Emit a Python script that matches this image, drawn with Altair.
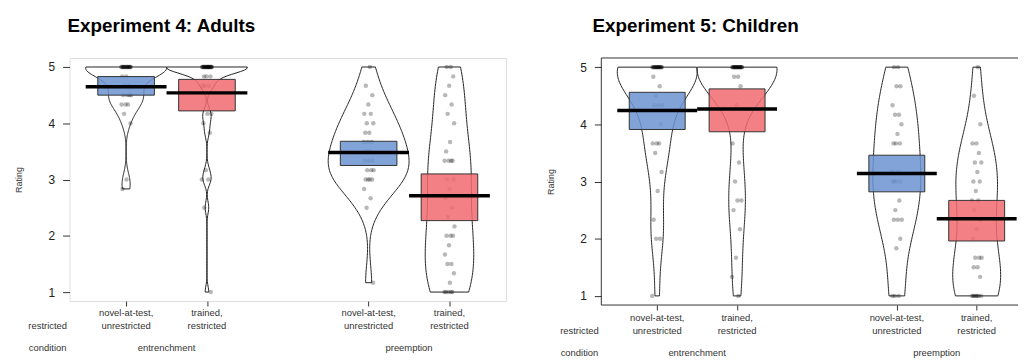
import altair as alt
import pandas as pd
import numpy as np

# ---------------- data ----------------
positions = [1, 2, 4, 5]
tick_line1 = ["novel-at-test,", "trained,", "novel-at-test,", "trained,"]
tick_line2 = ["unrestricted", "restricted", "unrestricted", "restricted"]
group_names = ["entrenchment", "preemption"]
group_centers = [1.5, 4.5]
factor_names = ["restricted", "condition"]
bean_colors = ["#6b93d1", "#f06a70", "#6b93d1", "#f06a70"]
y_ticks = [1, 2, 3, 4, 5]

titles = ["Experiment 4: Adults", "Experiment 5: Children"]

# Experiment 4 (adults): rating values and how many participants gave each
a_ent_novel_v = [5, 4.833, 4.667, 4.5, 4.333, 4.167, 4.0, 3.0, 2.833]
a_ent_novel_n = [16, 2, 2, 4, 3, 1, 1, 1, 1]
a_ent_trained_v = [5, 4.833, 4.667, 4.167, 4.0, 3.833, 3.167, 3.0, 2.5, 1.0]
a_ent_trained_n = [22, 3, 3, 2, 1, 1, 1, 2, 1, 1]
a_pre_novel_v = [5, 4.667, 4.5, 4.333, 4.167, 4.0, 3.833, 3.667, 3.5, 3.333,
                 3.167, 3.0, 2.833, 2.667, 2.5, 1.167]
a_pre_novel_n = [1, 1, 1, 1, 2, 2, 2, 3, 2, 3, 3, 4, 1, 1, 1, 1]
a_pre_trained_v = [5, 4.833, 4.667, 4.5, 4.333, 4.167, 4.0, 3.667, 3.5, 3.333,
                   3.0, 2.833, 2.667, 2.5, 2.333, 2.167, 2.0, 1.833, 1.667,
                   1.5, 1.333, 1.167, 1.0]
a_pre_trained_n = [2, 1, 1, 1, 1, 1, 1, 1, 1, 4, 2, 1, 1, 1, 1, 1, 3, 1, 1, 2,
                   1, 1, 5]
a_means = [4.65, 4.54, 3.48, 2.71]
a_lo = [4.50, 4.22, 3.25, 2.27]
a_hi = [4.83, 4.78, 3.68, 3.10]

# Experiment 5 (children)
c_ent_novel_v = [5, 4.833, 4.667, 4.5, 4.333, 4.0, 3.667, 3.5, 3.167, 2.833,
                 2.333, 2.0, 1.0]
c_ent_novel_n = [17, 1, 1, 1, 3, 1, 3, 1, 1, 1, 1, 2, 1]
c_ent_trained_v = [5, 4.833, 4.667, 4.333, 3.667, 3.333, 3.0, 2.667, 2.5,
                   2.167, 1.667, 1.333, 1.0]
c_ent_trained_n = [21, 2, 1, 1, 1, 1, 1, 2, 1, 1, 1, 1, 1]
c_pre_novel_v = [5, 4.667, 4.333, 4.167, 4.0, 3.833, 3.667, 3.167, 3.0, 2.667,
                 2.5, 2.333, 2.0, 1.833, 1.0]
c_pre_novel_n = [2, 2, 1, 2, 1, 1, 3, 2, 4, 1, 1, 3, 1, 1, 3]
c_pre_trained_v = [5, 4.5, 4.0, 3.667, 3.5, 3.333, 3.167, 3.0, 2.833, 2.667,
                   2.5, 2.333, 2.167, 2.0, 1.667, 1.5, 1.333, 1.0]
c_pre_trained_n = [1, 1, 1, 2, 1, 2, 1, 2, 1, 2, 1, 1, 1, 1, 3, 2, 1, 7]
c_means = [4.24, 4.27, 3.14, 2.35]
c_lo = [3.91, 3.87, 2.82, 1.96]
c_hi = [4.56, 4.62, 3.46, 2.67]

FONT = "Liberation Sans"
FRAME = "#333"


def nrd0(x):
    x = np.asarray(x, dtype=float)
    sd = x.std(ddof=1)
    q1, q3 = np.percentile(x, [25, 75])
    lo = min(sd, (q3 - q1) / 1.34)
    if not lo:
        lo = sd or abs(x[0]) or 1.0
    return 0.9 * lo * len(x) ** -0.2


def panel(title, beans, means, lo, hi, width, height, xmax, title_dx, offs,
          open_right):
    rows = []
    for pos, (vals, cnts) in zip(positions, beans):
        for v, c in zip(vals, cnts):
            rows += [{"pos": pos, "rating": v}] * c
    pts = pd.DataFrame(rows)

    xs = alt.Scale(domain=[0.3, xmax], nice=False, zero=False)
    ys = alt.Scale(domain=[0.84, 5.16], nice=False, zero=False)
    xaxis = alt.Axis(values=positions, labels=False, tickSize=5, domain=False,
                     grid=False, title=None, tickColor=FRAME)
    yaxis = alt.Axis(values=y_ticks, tickSize=7, tickColor=FRAME,
                     labelFontSize=12, labelColor="#222", labelPadding=8,
                     labelFont=FONT, domain=False, grid=False, title="Rating",
                     titleFontSize=9, titleFontWeight="normal",
                     titleColor="#333", titleFont=FONT, titlePadding=25)

    def X(f):
        return alt.X(f, scale=xs, axis=xaxis)

    def Y(f):
        return alt.Y(f, scale=ys, axis=yaxis)

    layers = []
    # beans (density outlines)
    for pos, (vals, cnts) in zip(positions, beans):
        bw = nrd0(np.repeat(vals, cnts))
        v = (alt.Chart(pts)
             .transform_filter(alt.datum.pos == pos)
             .transform_density("rating", as_=["value", "density"],
                                bandwidth=bw, steps=150)
             .transform_joinaggregate(maxd="max(density)")
             .transform_calculate(
                 hw="datum.density / datum.maxd * clamp(datum.maxd, 0.3, 0.5)")
             .transform_calculate(xa=f"{pos} - datum.hw",
                                  xb=f"{pos} + datum.hw")
             .mark_area(orient="horizontal", fillOpacity=0, stroke="#222",
                        strokeWidth=1)
             .encode(y=Y("value:Q"), x=X("xa:Q"), x2="xb:Q"))
        layers.append(v)

    # raw points, jittered a little
    points = (alt.Chart(pts)
              .transform_window(idx="row_number()", groupby=["pos"])
              .transform_calculate(
                  jx="datum.pos + ((datum.idx * 0.618034) % 1 - 0.5) * 0.13")
              .mark_circle(size=20, color="black", opacity=0.28)
              .encode(x=X("jx:Q"), y=Y("rating:Q")))
    layers.append(points)

    bars_df = pd.DataFrame({"pos": positions, "lo": lo, "hi": hi,
                            "mean": means, "color": bean_colors})
    boxes = (alt.Chart(bars_df)
             .transform_calculate(xa="datum.pos - 0.35", xb="datum.pos + 0.35")
             .mark_rect(stroke="#333", strokeWidth=1, fillOpacity=0.85)
             .encode(x=X("xa:Q"), x2="xb:Q", y=Y("lo:Q"), y2="hi:Q",
                     fill=alt.Fill("color:N", scale=None)))
    layers.append(boxes)

    mean_lines = (alt.Chart(bars_df)
                  .transform_calculate(ma="datum.pos - 0.5", mb="datum.pos + 0.5")
                  .mark_rule(strokeWidth=3.5, color="black")
                  .encode(x=X("ma:Q"), x2="mb:Q", y=Y("mean:Q")))
    layers.append(mean_lines)

    lab_df = pd.DataFrame({"pos": positions, "l1": tick_line1, "l2": tick_line2})
    txt = dict(fontSize=9.5, font=FONT, color="#333", baseline="middle")
    layers.append(alt.Chart(lab_df).mark_text(**txt).encode(
        x=X("pos:Q"), y=alt.value(height + offs[0]), text="l1:N"))
    layers.append(alt.Chart(lab_df).mark_text(**txt).encode(
        x=X("pos:Q"), y=alt.value(height + offs[1]), text="l2:N"))
    grp_df = pd.DataFrame({"pos": group_centers, "name": group_names})
    layers.append(alt.Chart(grp_df).mark_text(**txt).encode(
        x=X("pos:Q"), y=alt.value(height + offs[2]), text="name:N"))
    fac_df = pd.DataFrame({"name": factor_names,
                           "dy": [height + offs[1], height + offs[2]]})
    layers.append(alt.Chart(fac_df).mark_text(**txt).encode(
        x=alt.value(-22), y=alt.Y("dy:Q", scale=None), text="name:N"))

    props = dict(width=width, height=height,
                 title=alt.TitleParams(title, anchor="start", frame="group",
                                       fontSize=19, font=FONT,
                                       fontWeight="bold", color="black",
                                       dx=title_dx, offset=22))
    if open_right:
        # plot box runs past the right edge of the picture: draw only
        # its top, left and bottom sides
        fr = alt.Chart(bars_df.head(1))
        layers.append(fr.mark_rule(color=FRAME, strokeWidth=1).encode(
            x=alt.value(0), x2=alt.value(width + 2), y=alt.value(0)))
        layers.append(fr.mark_rule(color=FRAME, strokeWidth=1).encode(
            x=alt.value(0), x2=alt.value(width + 2), y=alt.value(height)))
        layers.append(fr.mark_rule(color=FRAME, strokeWidth=1).encode(
            x=alt.value(0), y=alt.value(0), y2=alt.value(height)))
        props["view"] = alt.ViewBackground(stroke="transparent")
    return alt.layer(*layers).properties(**props)


left = panel(titles[0],
             [(a_ent_novel_v, a_ent_novel_n), (a_ent_trained_v, a_ent_trained_n),
              (a_pre_novel_v, a_pre_novel_n), (a_pre_trained_v, a_pre_trained_n)],
             a_means, a_lo, a_hi, 440, 245, 5.7, -2, [12, 25, 47], False)
right = panel(titles[1],
              [(c_ent_novel_v, c_ent_novel_n), (c_ent_trained_v, c_ent_trained_n),
               (c_pre_novel_v, c_pre_novel_n), (c_pre_trained_v, c_pre_trained_n)],
              c_means, c_lo, c_hi, 418, 249, 0.3 + 418 / 80.5, -9,
              [13.5, 26, 48.5], True)

chart = (alt.hconcat(left, right, spacing=38)
         .properties(padding={"left": 5, "top": 7, "right": 0, "bottom": 0})
         .configure_view(stroke=FRAME, strokeWidth=1)
         .configure(background="white"))

chart.save("out.html", embed_options={"renderer": "svg", "actions": False})
